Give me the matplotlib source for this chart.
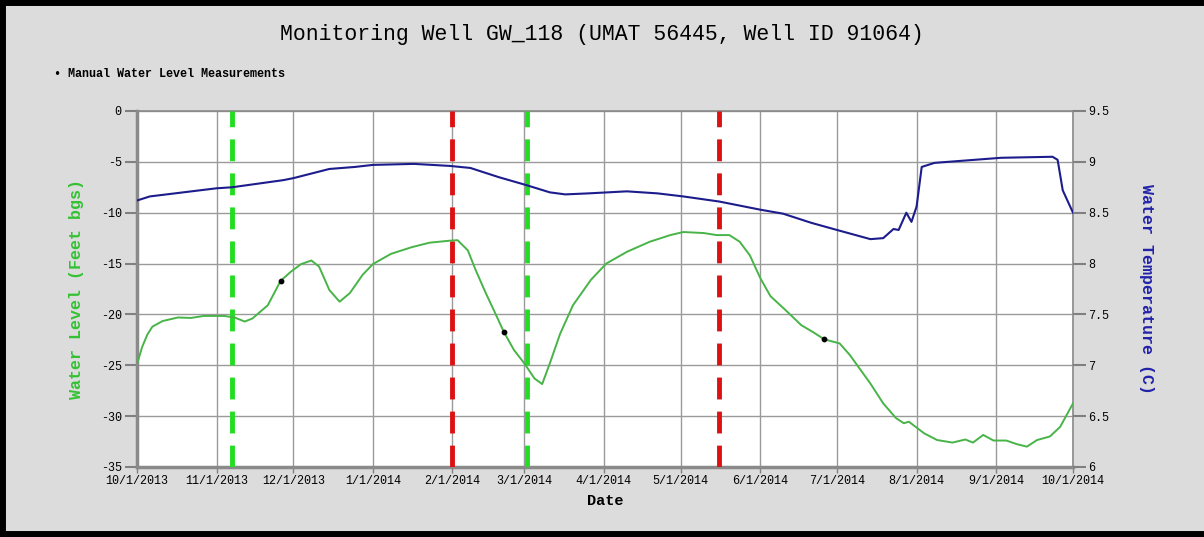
import numpy as np
import pandas as pd
import matplotlib
matplotlib.use("Agg")
import matplotlib.pyplot as plt
from matplotlib.lines import Line2D

plt.rcParams['axes.unicode_minus'] = False
MONO = ['Liberation Mono', 'DejaVu Sans Mono']

# Nivel d'agua (ft bgs)
datas_nivel = pd.to_datetime([
    '2013-10-01', '2013-10-03', '2013-10-05', '2013-10-07', '2013-10-11', '2013-10-17',
    '2013-10-22', '2013-10-27', '2013-11-04', '2013-11-08', '2013-11-12', '2013-11-15',
    '2013-11-21', '2013-11-26', '2013-11-30', '2013-12-04', '2013-12-08', '2013-12-11',
    '2013-12-15', '2013-12-19', '2013-12-23', '2013-12-28', '2014-01-01', '2014-01-08',
    '2014-01-16', '2014-01-23', '2014-01-31', '2014-02-03', '2014-02-07', '2014-02-10',
    '2014-02-14', '2014-02-18', '2014-02-21', '2014-02-25', '2014-03-01', '2014-03-05',
    '2014-03-08', '2014-03-11', '2014-03-15', '2014-03-20', '2014-03-27', '2014-04-02',
    '2014-04-10', '2014-04-19', '2014-04-27', '2014-05-02', '2014-05-10', '2014-05-15',
    '2014-05-20', '2014-05-24', '2014-05-28', '2014-06-01', '2014-06-05', '2014-06-11',
    '2014-06-17', '2014-06-22', '2014-06-26', '2014-07-02', '2014-07-06', '2014-07-14',
    '2014-07-19', '2014-07-24', '2014-07-27', '2014-07-29', '2014-08-04', '2014-08-09',
    '2014-08-15', '2014-08-20', '2014-08-23', '2014-08-27', '2014-08-31', '2014-09-05',
    '2014-09-09', '2014-09-13', '2014-09-17', '2014-09-22', '2014-09-26', '2014-10-01',
])
nivel = [
    -24.9, -23.2, -22.0, -21.2, -20.65, -20.3,
    -20.35, -20.15, -20.15, -20.3, -20.7, -20.4,
    -19.1, -16.7, -15.8, -15.05, -14.7, -15.3,
    -17.6, -18.75, -17.9, -16.1, -15.05, -14.05,
    -13.4, -12.95, -12.75, -12.7, -13.7, -15.6,
    -17.9, -20.05, -21.7, -23.5, -24.8, -26.3,
    -26.85, -24.8, -21.9, -19.1, -16.6, -15.0,
    -13.85, -12.85, -12.2, -11.9, -12.0, -12.2,
    -12.2, -12.85, -14.2, -16.4, -18.2, -19.6,
    -21.05, -21.8, -22.45, -22.85, -24.0, -26.8,
    -28.75, -30.2, -30.7, -30.55, -31.7, -32.35,
    -32.6, -32.3, -32.6, -31.85, -32.4, -32.4,
    -32.75, -33.0, -32.35, -32.0, -31.05, -28.75,
]

# Temperatura da agua (C)
datas_temp = pd.to_datetime([
    '2013-10-01', '2013-10-06', '2013-11-01', '2013-11-07', '2013-11-27', '2013-12-01',
    '2013-12-15', '2013-12-25', '2014-01-01', '2014-01-17', '2014-01-31', '2014-02-08',
    '2014-02-19', '2014-03-02', '2014-03-11', '2014-03-17', '2014-03-26', '2014-04-10',
    '2014-04-22', '2014-05-02', '2014-05-16', '2014-06-01', '2014-06-10', '2014-06-21',
    '2014-07-01', '2014-07-14', '2014-07-19', '2014-07-23', '2014-07-25', '2014-07-28',
    '2014-07-30', '2014-08-01', '2014-08-03', '2014-08-08', '2014-09-03', '2014-09-23',
    '2014-09-25', '2014-09-27', '2014-09-29', '2014-10-01',
])
temperatura = [
    8.62, 8.66, 8.74, 8.75, 8.82, 8.84,
    8.93, 8.95, 8.97, 8.98, 8.96, 8.94,
    8.85, 8.77, 8.70, 8.68, 8.69, 8.71,
    8.69, 8.66, 8.61, 8.53, 8.49, 8.40,
    8.33, 8.24, 8.25, 8.34, 8.33, 8.50,
    8.41, 8.56, 8.95, 8.99, 9.04, 9.05,
    9.02, 8.72, 8.61, 8.50,
]

# Medicoes manuais
datas_manual = pd.to_datetime(['2013-11-26', '2014-02-21', '2014-06-26'])
nivel_manual = [-16.7, -21.7, -22.45]

# Linhas verticais tracejadas
linhas_verdes = pd.to_datetime(['2013-11-07', '2014-03-02'])
linhas_vermelhas = pd.to_datetime(['2014-02-01', '2014-05-16'])

meses = pd.date_range('2013-10-01', '2014-10-01', freq='MS')

fig = plt.figure(figsize=(12.04, 5.37), dpi=100, facecolor='#dcdcdc')
# moldura preta (esquerda, topo, base)
for xs, ys in [([0.002, 0.002], [0, 1]), ([0, 1], [0.997, 0.997]), ([0, 1], [0.006, 0.006])]:
    fig.lines.append(Line2D(xs, ys, transform=fig.transFigure, color='black', linewidth=5))

ax = fig.add_axes([0.1138, 0.1304, 0.7774, 0.6629])
ax.set_facecolor('white')

for d in linhas_verdes:
    ax.axvline(d, color='#22dd22', linestyle=(0, (4.5, 2.5)), linewidth=3.5, zorder=3)
for d in linhas_vermelhas:
    ax.axvline(d, color='#dd1111', linestyle=(0, (4.5, 2.5)), linewidth=3.5, zorder=3)

ax.plot(datas_nivel, nivel, color='#48b448', linewidth=1.4, zorder=4)
ax.scatter(datas_manual, nivel_manual, s=10, color='black', zorder=5)

ax.set_xlim(meses[0], meses[-1])
ax.set_ylim(-35, 0)
ax.set_yticks(np.arange(-35, 1, 5))
ax.set_xticks(meses)
ax.set_xticklabels([f'{d.month}/{d.day}/{d.year}' for d in meses], fontfamily=MONO, fontsize=8.5)
for lbl in ax.get_yticklabels():
    lbl.set_fontfamily(MONO)
    lbl.set_fontsize(8.5)
ax.grid(True, color='#9a9a9a', linewidth=1)
ax.set_axisbelow(True)
ax.tick_params(axis='y', length=9, color='#808080', width=1.5, pad=2)
ax.tick_params(axis='x', length=4, color='#808080', width=1, pad=2)
for s in ax.spines.values():
    s.set_color('#8a8a8a')
    s.set_linewidth(1.2)
ax.spines['left'].set_linewidth(2.5)
ax.spines['bottom'].set_linewidth(2.5)

ax.set_xlabel('Date', fontfamily=MONO, fontweight='bold', fontsize=11, labelpad=5)
ax.set_ylabel('Water Level (Feet bgs)', fontfamily=MONO, fontweight='bold', fontsize=12,
              color='#33c233', labelpad=12)

ax2 = ax.twinx()
ax2.plot(datas_temp, temperatura, color='#1c1c8c', linewidth=1.5, zorder=4)
ax2.set_ylim(6, 9.5)
ax2.set_yticks(np.arange(6, 9.51, 0.5))
ax2.set_yticklabels(['6', '6.5', '7', '7.5', '8', '8.5', '9', '9.5'], fontfamily=MONO, fontsize=8.5)
ax2.tick_params(axis='y', length=9, color='#808080', width=1.5, pad=2)
for s in ax2.spines.values():
    s.set_visible(False)
ax2.set_ylabel('Water Temperature (C)', fontfamily=MONO, fontweight='bold', fontsize=12,
               color='#2222aa', rotation=-90, labelpad=32)

fig.suptitle('Monitoring Well GW_118 (UMAT 56445, Well ID 91064)', fontfamily=MONO,
             fontsize=15.5, x=0.5, y=0.955)
fig.text(0.045, 0.862, '• Manual Water Level Measurements', fontfamily=MONO,
         fontsize=8.5, fontweight='bold', va='center')

fig.savefig('out.png', dpi=100, facecolor=fig.get_facecolor())
